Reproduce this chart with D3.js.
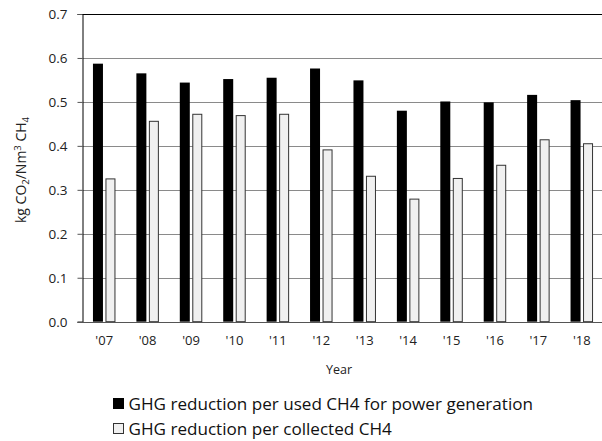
<!DOCTYPE html>
<html><head><meta charset="utf-8">
<script src="https://cdn.jsdelivr.net/npm/d3@7"></script>
<style>body{margin:0;background:#fff;} svg{display:block;font-family:"Open Sans",Lato,sans-serif;}</style>
</head><body>
<script>
const years = ["'07","'08","'09","'10","'11","'12","'13","'14","'15","'16","'17","'18"];
const usedForPower = [0.587,0.565,0.544,0.552,0.555,0.576,0.549,0.480,0.501,0.499,0.516,0.504];
const collected = [0.326,0.457,0.473,0.470,0.473,0.392,0.332,0.280,0.327,0.357,0.415,0.406];
const yTicks = [0,0.1,0.2,0.3,0.4,0.5,0.6,0.7];
const seriesNames = ["GHG reduction per used CH4 for power generation","GHG reduction per collected CH4"];

(function(){
const W=602,H=441;
const FONT='"Open Sans",Lato,sans-serif';
const svg=d3.select("body").append("svg").attr("width",W).attr("height",H);
const pLeft=82.5, pRight=603.5, pTop=14, pBottom=321.7;
const x=d3.scaleBand().domain(years).range([pLeft,pRight]).paddingInner(0).paddingOuter(0);
const y=d3.scaleLinear().domain([0,0.7]).range([pBottom,pTop]);

svg.append("g").selectAll("line").data(yTicks.filter(t=>t>0&&t<0.7)).join("line")
  .attr("x1",pLeft).attr("x2",W).attr("y1",d=>Math.round(y(d))+0.5).attr("y2",d=>Math.round(y(d))+0.5)
  .attr("stroke","#8a8a8a").attr("stroke-width",1);
svg.append("line").attr("x1",pLeft).attr("x2",W).attr("y1",Math.round(y(0.7))+0.5).attr("y2",Math.round(y(0.7))+0.5)
  .attr("stroke","#000").attr("stroke-width",1);

const bw=10, gap=2.5;
svg.append("g").selectAll("rect").data(usedForPower).join("rect")
  .attr("x",(d,i)=>x(years[i])+x.bandwidth()/2-bw-gap/2)
  .attr("y",d=>y(d)).attr("width",bw).attr("height",d=>pBottom-y(d))
  .attr("fill","#000");
svg.append("g").selectAll("rect").data(collected).join("rect")
  .attr("x",(d,i)=>x(years[i])+x.bandwidth()/2+gap/2+0.5)
  .attr("y",d=>y(d)+0.5).attr("width",bw-1).attr("height",d=>pBottom-y(d)-0.5)
  .attr("fill","#f0f0f0").attr("stroke","#333").attr("stroke-width",1);

const yAxis=d3.axisLeft(y).tickValues(yTicks).tickFormat(d3.format(".1f")).tickSize(5).tickPadding(10);
const gy=svg.append("g").attr("transform",`translate(${pLeft},0)`).call(yAxis);
gy.select(".domain").attr("stroke","#000");
gy.selectAll(".tick line").attr("stroke","#555");
gy.selectAll("text").attr("font-size",13.5).attr("fill","#222").attr("font-family",FONT);

svg.append("line").attr("x1",pLeft-5).attr("x2",W).attr("y1",Math.round(pBottom)+0.5).attr("y2",Math.round(pBottom)+0.5)
  .attr("stroke","#555").attr("stroke-width",1);

const xAxis=d3.axisBottom(x).tickSize(0).tickPadding(14);
const gx=svg.append("g").attr("transform",`translate(0,${pBottom})`).call(xAxis);
gx.select(".domain").remove();
gx.selectAll("text").attr("font-size",13).attr("fill","#222").attr("font-family",FONT);

svg.append("text").attr("x",(pLeft+pRight)/2-4).attr("y",374).attr("text-anchor","middle")
  .attr("font-size",12.5).attr("fill","#222").text("Year");

const yt=svg.append("text").attr("transform","translate(26,170) rotate(-90)").attr("text-anchor","middle")
  .attr("font-size",14).attr("fill","#222");
yt.append("tspan").text("kg CO");
yt.append("tspan").attr("font-size",9.5).attr("dy",3).text("2");
yt.append("tspan").attr("dy",-3).text("/Nm");
yt.append("tspan").attr("font-size",9.5).attr("dy",-5).text("3");
yt.append("tspan").attr("dy",5).text(" CH");
yt.append("tspan").attr("font-size",9.5).attr("dy",3).text("4");

const lg=svg.append("g");
seriesNames.forEach((n,i)=>{
  const base=410+i*25;
  lg.append("rect").attr("x",113.5).attr("y",base-11.5).attr("width",10).attr("height",10)
    .attr("fill",i===0?"#000":"#f0f0f0").attr("stroke",i===0?"#000":"#333");
  lg.append("text").attr("x",128.5).attr("y",base).attr("font-size",17.1).attr("fill","#111").text(n);
});
})();
</script>
</body></html>
